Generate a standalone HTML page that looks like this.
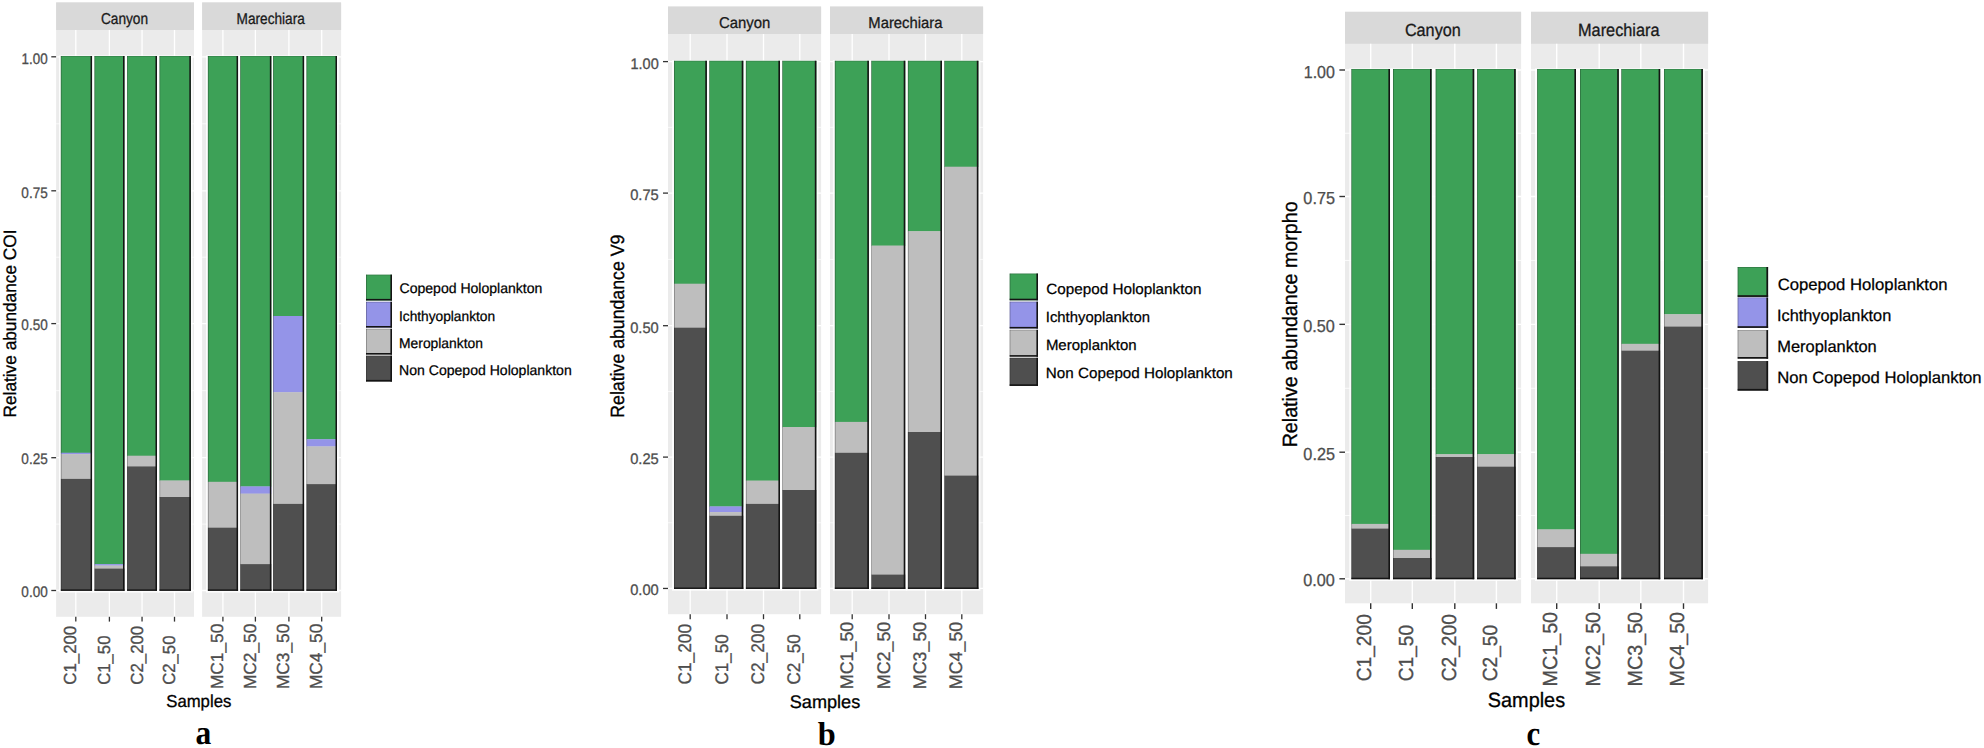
<!DOCTYPE html>
<html lang="en"><head><meta charset="utf-8"><title>Relative abundance of zooplankton groups</title>
<style>html,body{margin:0;padding:0;background:#fff}body{width:1984px;height:748px;overflow:hidden}svg{display:block}text{font-family:"Liberation Sans",Arial,sans-serif;text-rendering:geometricPrecision}text.t{stroke:#000;stroke-width:.3px}text.k{stroke:#000;stroke-width:.25px}text.s{stroke:#1A1A1A;stroke-width:.3px}text.g{stroke:#4D4D4D;stroke-width:.3px}text.ser{font-family:"Liberation Serif","Times New Roman",serif;font-weight:bold}</style>
</head><body>
<svg width="1984" height="748" viewBox="0 0 1984 748">
<rect width="1984" height="748" fill="#fff"/>
<g>
<rect x="56.1" y="3.3" width="137.9" height="613.5" fill="#EBEBEB"/>
<rect x="56.1" y="2.3" width="137.9" height="27.7" fill="#D9D9D9"/>
<line x1="56.1" x2="194" y1="590.5" y2="590.5" stroke="#fff" stroke-width="1.3"/>
<line x1="56.1" x2="194" y1="524.1" y2="524.1" stroke="#fff" stroke-width="0.7"/>
<line x1="56.1" x2="194" y1="457.7" y2="457.7" stroke="#fff" stroke-width="1.3"/>
<line x1="56.1" x2="194" y1="390.65" y2="390.65" stroke="#fff" stroke-width="0.7"/>
<line x1="56.1" x2="194" y1="323.6" y2="323.6" stroke="#fff" stroke-width="1.3"/>
<line x1="56.1" x2="194" y1="257.2" y2="257.2" stroke="#fff" stroke-width="0.7"/>
<line x1="56.1" x2="194" y1="190.8" y2="190.8" stroke="#fff" stroke-width="1.3"/>
<line x1="56.1" x2="194" y1="123.8" y2="123.8" stroke="#fff" stroke-width="0.7"/>
<line x1="56.1" x2="194" y1="56.8" y2="56.8" stroke="#fff" stroke-width="1.3"/>
<line x1="75.8" x2="75.8" y1="30" y2="616.8" stroke="#fff" stroke-width="1.3"/>
<line x1="75.8" x2="75.8" y1="616.8" y2="621.6" stroke="#333" stroke-width="1.3"/>
<line x1="109.4" x2="109.4" y1="30" y2="616.8" stroke="#fff" stroke-width="1.3"/>
<line x1="109.4" x2="109.4" y1="616.8" y2="621.6" stroke="#333" stroke-width="1.3"/>
<line x1="142.05" x2="142.05" y1="30" y2="616.8" stroke="#fff" stroke-width="1.3"/>
<line x1="142.05" x2="142.05" y1="616.8" y2="621.6" stroke="#333" stroke-width="1.3"/>
<line x1="174.5" x2="174.5" y1="30" y2="616.8" stroke="#fff" stroke-width="1.3"/>
<line x1="174.5" x2="174.5" y1="616.8" y2="621.6" stroke="#333" stroke-width="1.3"/>
<text x="100.92" y="23.6" font-size="15.8" fill="#1A1A1A" color="#1A1A1A" textLength="47.2" lengthAdjust="spacingAndGlyphs" class="s">Canyon</text>
<rect x="202.1" y="3.3" width="139" height="613.5" fill="#EBEBEB"/>
<rect x="202.1" y="2.3" width="139" height="27.7" fill="#D9D9D9"/>
<line x1="202.1" x2="341.1" y1="590.5" y2="590.5" stroke="#fff" stroke-width="1.3"/>
<line x1="202.1" x2="341.1" y1="524.1" y2="524.1" stroke="#fff" stroke-width="0.7"/>
<line x1="202.1" x2="341.1" y1="457.7" y2="457.7" stroke="#fff" stroke-width="1.3"/>
<line x1="202.1" x2="341.1" y1="390.65" y2="390.65" stroke="#fff" stroke-width="0.7"/>
<line x1="202.1" x2="341.1" y1="323.6" y2="323.6" stroke="#fff" stroke-width="1.3"/>
<line x1="202.1" x2="341.1" y1="257.2" y2="257.2" stroke="#fff" stroke-width="0.7"/>
<line x1="202.1" x2="341.1" y1="190.8" y2="190.8" stroke="#fff" stroke-width="1.3"/>
<line x1="202.1" x2="341.1" y1="123.8" y2="123.8" stroke="#fff" stroke-width="0.7"/>
<line x1="202.1" x2="341.1" y1="56.8" y2="56.8" stroke="#fff" stroke-width="1.3"/>
<line x1="222.9" x2="222.9" y1="30" y2="616.8" stroke="#fff" stroke-width="1.3"/>
<line x1="222.9" x2="222.9" y1="616.8" y2="621.6" stroke="#333" stroke-width="1.3"/>
<line x1="255.4" x2="255.4" y1="30" y2="616.8" stroke="#fff" stroke-width="1.3"/>
<line x1="255.4" x2="255.4" y1="616.8" y2="621.6" stroke="#333" stroke-width="1.3"/>
<line x1="288.9" x2="288.9" y1="30" y2="616.8" stroke="#fff" stroke-width="1.3"/>
<line x1="288.9" x2="288.9" y1="616.8" y2="621.6" stroke="#333" stroke-width="1.3"/>
<line x1="321.7" x2="321.7" y1="30" y2="616.8" stroke="#fff" stroke-width="1.3"/>
<line x1="321.7" x2="321.7" y1="616.8" y2="621.6" stroke="#333" stroke-width="1.3"/>
<text x="236.56" y="23.6" font-size="15.8" fill="#1A1A1A" color="#1A1A1A" textLength="68.27" lengthAdjust="spacingAndGlyphs" class="s">Marechiara</text>
<rect x="58.95" y="55.4" width="35" height="537.2" fill="#fff" opacity="0.85"/>
<rect x="92.6" y="55.4" width="33.8" height="537.2" fill="#fff" opacity="0.85"/>
<rect x="125.2" y="55.4" width="33.7" height="537.2" fill="#fff" opacity="0.85"/>
<rect x="157.65" y="55.4" width="35.1" height="537.2" fill="#fff" opacity="0.85"/>
<rect x="206" y="55.4" width="33.95" height="537.2" fill="#fff" opacity="0.85"/>
<rect x="238.4" y="55.4" width="34.85" height="537.2" fill="#fff" opacity="0.85"/>
<rect x="271.2" y="55.4" width="34.8" height="537.2" fill="#fff" opacity="0.85"/>
<rect x="304.6" y="55.4" width="34.3" height="537.2" fill="#fff" opacity="0.85"/>
<rect x="60.85" y="56" width="31.2" height="397" fill="#3DA157"/>
<rect x="60.85" y="452.7" width="31.2" height="1.7" fill="#9494E8"/>
<rect x="60.85" y="454.1" width="31.2" height="25.1" fill="#BEBEBE"/>
<rect x="60.85" y="478.9" width="31.2" height="111.9" fill="#4F4F4F"/>
<rect x="90.55" y="56" width="1.5" height="534.8" fill="#141414"/>
<rect x="60.85" y="589.4" width="31.2" height="1.4" fill="#141414"/>
<rect x="60.85" y="56" width="0.6" height="534.8" fill="#141414" opacity="0.45"/>
<rect x="60.85" y="56" width="31.2" height="0.6" fill="#141414" opacity="0.25"/>
<rect x="94.5" y="56" width="30" height="508.4" fill="#3DA157"/>
<rect x="94.5" y="564.1" width="30" height="1.7" fill="#9494E8"/>
<rect x="94.5" y="565.5" width="30" height="3.4" fill="#BEBEBE"/>
<rect x="94.5" y="568.6" width="30" height="22.2" fill="#4F4F4F"/>
<rect x="123" y="56" width="1.5" height="534.8" fill="#141414"/>
<rect x="94.5" y="589.4" width="30" height="1.4" fill="#141414"/>
<rect x="94.5" y="56" width="0.6" height="534.8" fill="#141414" opacity="0.45"/>
<rect x="94.5" y="56" width="30" height="0.6" fill="#141414" opacity="0.25"/>
<rect x="127.1" y="56" width="29.9" height="400" fill="#3DA157"/>
<rect x="127.1" y="455.7" width="29.9" height="11" fill="#BEBEBE"/>
<rect x="127.1" y="466.4" width="29.9" height="124.4" fill="#4F4F4F"/>
<rect x="155.5" y="56" width="1.5" height="534.8" fill="#141414"/>
<rect x="127.1" y="589.4" width="29.9" height="1.4" fill="#141414"/>
<rect x="127.1" y="56" width="0.6" height="534.8" fill="#141414" opacity="0.45"/>
<rect x="127.1" y="56" width="29.9" height="0.6" fill="#141414" opacity="0.25"/>
<rect x="159.55" y="56" width="31.3" height="424.8" fill="#3DA157"/>
<rect x="159.55" y="480.5" width="31.3" height="16.8" fill="#BEBEBE"/>
<rect x="159.55" y="497" width="31.3" height="93.8" fill="#4F4F4F"/>
<rect x="189.35" y="56" width="1.5" height="534.8" fill="#141414"/>
<rect x="159.55" y="589.4" width="31.3" height="1.4" fill="#141414"/>
<rect x="159.55" y="56" width="0.6" height="534.8" fill="#141414" opacity="0.45"/>
<rect x="159.55" y="56" width="31.3" height="0.6" fill="#141414" opacity="0.25"/>
<rect x="207.9" y="56" width="30.15" height="426.1" fill="#3DA157"/>
<rect x="207.9" y="481.8" width="30.15" height="46.2" fill="#BEBEBE"/>
<rect x="207.9" y="527.7" width="30.15" height="63.1" fill="#4F4F4F"/>
<rect x="236.55" y="56" width="1.5" height="534.8" fill="#141414"/>
<rect x="207.9" y="589.4" width="30.15" height="1.4" fill="#141414"/>
<rect x="207.9" y="56" width="0.6" height="534.8" fill="#141414" opacity="0.45"/>
<rect x="207.9" y="56" width="30.15" height="0.6" fill="#141414" opacity="0.25"/>
<rect x="240.3" y="56" width="31.05" height="430.7" fill="#3DA157"/>
<rect x="240.3" y="486.4" width="31.05" height="7.5" fill="#9494E8"/>
<rect x="240.3" y="493.6" width="31.05" height="70.8" fill="#BEBEBE"/>
<rect x="240.3" y="564.1" width="31.05" height="26.7" fill="#4F4F4F"/>
<rect x="269.85" y="56" width="1.5" height="534.8" fill="#141414"/>
<rect x="240.3" y="589.4" width="31.05" height="1.4" fill="#141414"/>
<rect x="240.3" y="56" width="0.6" height="534.8" fill="#141414" opacity="0.45"/>
<rect x="240.3" y="56" width="31.05" height="0.6" fill="#141414" opacity="0.25"/>
<rect x="273.1" y="56" width="31" height="260.3" fill="#3DA157"/>
<rect x="273.1" y="316" width="31" height="76.5" fill="#9494E8"/>
<rect x="273.1" y="392.2" width="31" height="112" fill="#BEBEBE"/>
<rect x="273.1" y="503.9" width="31" height="86.9" fill="#4F4F4F"/>
<rect x="302.6" y="56" width="1.5" height="534.8" fill="#141414"/>
<rect x="273.1" y="589.4" width="31" height="1.4" fill="#141414"/>
<rect x="273.1" y="56" width="0.6" height="534.8" fill="#141414" opacity="0.45"/>
<rect x="273.1" y="56" width="31" height="0.6" fill="#141414" opacity="0.25"/>
<rect x="306.5" y="56" width="30.5" height="383.5" fill="#3DA157"/>
<rect x="306.5" y="439.2" width="30.5" height="7.5" fill="#9494E8"/>
<rect x="306.5" y="446.4" width="30.5" height="38" fill="#BEBEBE"/>
<rect x="306.5" y="484.1" width="30.5" height="106.7" fill="#4F4F4F"/>
<rect x="335.5" y="56" width="1.5" height="534.8" fill="#141414"/>
<rect x="306.5" y="589.4" width="30.5" height="1.4" fill="#141414"/>
<rect x="306.5" y="56" width="0.6" height="534.8" fill="#141414" opacity="0.45"/>
<rect x="306.5" y="56" width="30.5" height="0.6" fill="#141414" opacity="0.25"/>
<line x1="51.3" x2="56.1" y1="590.5" y2="590.5" stroke="#333" stroke-width="1.3"/>
<text x="21.36" y="597.2" font-size="15.3" fill="#4D4D4D" color="#4D4D4D" textLength="26.33" lengthAdjust="spacingAndGlyphs" class="g">0.00</text>
<line x1="51.3" x2="56.1" y1="457.7" y2="457.7" stroke="#333" stroke-width="1.3"/>
<text x="21.36" y="464.4" font-size="15.3" fill="#4D4D4D" color="#4D4D4D" textLength="26.4" lengthAdjust="spacingAndGlyphs" class="g">0.25</text>
<line x1="51.3" x2="56.1" y1="323.6" y2="323.6" stroke="#333" stroke-width="1.3"/>
<text x="21.36" y="330.3" font-size="15.3" fill="#4D4D4D" color="#4D4D4D" textLength="26.33" lengthAdjust="spacingAndGlyphs" class="g">0.50</text>
<line x1="51.3" x2="56.1" y1="190.8" y2="190.8" stroke="#333" stroke-width="1.3"/>
<text x="21.36" y="197.5" font-size="15.3" fill="#4D4D4D" color="#4D4D4D" textLength="26.4" lengthAdjust="spacingAndGlyphs" class="g">0.75</text>
<line x1="51.3" x2="56.1" y1="56.8" y2="56.8" stroke="#333" stroke-width="1.3"/>
<text x="21.59" y="63.5" font-size="15.3" fill="#4D4D4D" color="#4D4D4D" textLength="26.09" lengthAdjust="spacingAndGlyphs" class="g">1.00</text>
<text transform="translate(76.3 684.74) rotate(-90)" font-size="17.5" fill="#4D4D4D" color="#4D4D4D" textLength="58.98" lengthAdjust="spacingAndGlyphs" class="g">C1_200</text>
<text transform="translate(109.9 684.73) rotate(-90)" font-size="17.5" fill="#4D4D4D" color="#4D4D4D" textLength="49.15" lengthAdjust="spacingAndGlyphs" class="g">C1_50</text>
<text transform="translate(142.55 684.74) rotate(-90)" font-size="17.5" fill="#4D4D4D" color="#4D4D4D" textLength="58.98" lengthAdjust="spacingAndGlyphs" class="g">C2_200</text>
<text transform="translate(175 684.73) rotate(-90)" font-size="17.5" fill="#4D4D4D" color="#4D4D4D" textLength="49.15" lengthAdjust="spacingAndGlyphs" class="g">C2_50</text>
<text transform="translate(223.4 689.09) rotate(-90)" font-size="17.5" fill="#4D4D4D" color="#4D4D4D" textLength="65.49" lengthAdjust="spacingAndGlyphs" class="g">MC1_50</text>
<text transform="translate(255.9 689.09) rotate(-90)" font-size="17.5" fill="#4D4D4D" color="#4D4D4D" textLength="65.49" lengthAdjust="spacingAndGlyphs" class="g">MC2_50</text>
<text transform="translate(289.4 689.09) rotate(-90)" font-size="17.5" fill="#4D4D4D" color="#4D4D4D" textLength="65.49" lengthAdjust="spacingAndGlyphs" class="g">MC3_50</text>
<text transform="translate(322.2 689.09) rotate(-90)" font-size="17.5" fill="#4D4D4D" color="#4D4D4D" textLength="65.49" lengthAdjust="spacingAndGlyphs" class="g">MC4_50</text>
<text transform="translate(15.9 417.48) rotate(-90)" font-size="17.9" fill="#000" color="#000" textLength="187.94" lengthAdjust="spacingAndGlyphs" class="t">Relative abundance COI</text>
<text x="166.25" y="707.2" font-size="17.3" fill="#000" color="#000" textLength="65.05" lengthAdjust="spacingAndGlyphs" class="t">Samples</text>
<rect x="366" y="274.7" width="26" height="25.8" fill="#3DA157"/>
<rect x="390.4" y="274.7" width="1.6" height="25.8" fill="#141414"/>
<rect x="366" y="298.9" width="26" height="1.6" fill="#141414"/>
<rect x="366" y="274.7" width="0.6" height="25.8" fill="#141414" opacity="0.45"/>
<rect x="366" y="274.7" width="26" height="0.6" fill="#141414" opacity="0.35"/>
<text x="399.5" y="293.4" font-size="14.1" fill="#000" color="#000" textLength="142.91" lengthAdjust="spacingAndGlyphs" class="k">Copepod Holoplankton</text>
<rect x="366" y="301.8" width="26" height="25.8" fill="#9494E8"/>
<rect x="390.4" y="301.8" width="1.6" height="25.8" fill="#141414"/>
<rect x="366" y="326" width="26" height="1.6" fill="#141414"/>
<rect x="366" y="301.8" width="0.6" height="25.8" fill="#141414" opacity="0.45"/>
<rect x="366" y="301.8" width="26" height="0.6" fill="#141414" opacity="0.35"/>
<text x="398.96" y="321.4" font-size="14.1" fill="#000" color="#000" textLength="96.13" lengthAdjust="spacingAndGlyphs" class="k">Ichthyoplankton</text>
<rect x="366" y="328.8" width="26" height="25.8" fill="#BEBEBE"/>
<rect x="390.4" y="328.8" width="1.6" height="25.8" fill="#141414"/>
<rect x="366" y="353" width="26" height="1.6" fill="#141414"/>
<rect x="366" y="328.8" width="0.6" height="25.8" fill="#141414" opacity="0.45"/>
<rect x="366" y="328.8" width="26" height="0.6" fill="#141414" opacity="0.35"/>
<text x="399.09" y="348.3" font-size="14.1" fill="#000" color="#000" textLength="83.8" lengthAdjust="spacingAndGlyphs" class="k">Meroplankton</text>
<rect x="366" y="355.7" width="26" height="25.8" fill="#4F4F4F"/>
<rect x="390.4" y="355.7" width="1.6" height="25.8" fill="#141414"/>
<rect x="366" y="379.9" width="26" height="1.6" fill="#141414"/>
<rect x="366" y="355.7" width="0.6" height="25.8" fill="#141414" opacity="0.45"/>
<rect x="366" y="355.7" width="26" height="0.6" fill="#141414" opacity="0.35"/>
<text x="399.08" y="375" font-size="14.1" fill="#000" color="#000" textLength="172.67" lengthAdjust="spacingAndGlyphs" class="k">Non Copepod Holoplankton</text>
<text x="195.6" y="744.4" font-size="34.3" fill="#000" color="#000" textLength="15.8" lengthAdjust="spacingAndGlyphs" class="ser">a</text>
</g>
<g>
<rect x="668" y="7.4" width="153.1" height="606.8" fill="#EBEBEB"/>
<rect x="668" y="6.4" width="153.1" height="27.55" fill="#D9D9D9"/>
<line x1="668" x2="821.1" y1="588.45" y2="588.45" stroke="#fff" stroke-width="1.3"/>
<line x1="668" x2="821.1" y1="522.78" y2="522.78" stroke="#fff" stroke-width="0.7"/>
<line x1="668" x2="821.1" y1="457.1" y2="457.1" stroke="#fff" stroke-width="1.3"/>
<line x1="668" x2="821.1" y1="391.4" y2="391.4" stroke="#fff" stroke-width="0.7"/>
<line x1="668" x2="821.1" y1="325.7" y2="325.7" stroke="#fff" stroke-width="1.3"/>
<line x1="668" x2="821.1" y1="259.4" y2="259.4" stroke="#fff" stroke-width="0.7"/>
<line x1="668" x2="821.1" y1="193.1" y2="193.1" stroke="#fff" stroke-width="1.3"/>
<line x1="668" x2="821.1" y1="127.35" y2="127.35" stroke="#fff" stroke-width="0.7"/>
<line x1="668" x2="821.1" y1="61.6" y2="61.6" stroke="#fff" stroke-width="1.3"/>
<line x1="690.2" x2="690.2" y1="33.95" y2="614.2" stroke="#fff" stroke-width="1.3"/>
<line x1="690.2" x2="690.2" y1="614.2" y2="619.2" stroke="#333" stroke-width="1.3"/>
<line x1="727" x2="727" y1="33.95" y2="614.2" stroke="#fff" stroke-width="1.3"/>
<line x1="727" x2="727" y1="614.2" y2="619.2" stroke="#333" stroke-width="1.3"/>
<line x1="763.5" x2="763.5" y1="33.95" y2="614.2" stroke="#fff" stroke-width="1.3"/>
<line x1="763.5" x2="763.5" y1="614.2" y2="619.2" stroke="#333" stroke-width="1.3"/>
<line x1="799.8" x2="799.8" y1="33.95" y2="614.2" stroke="#fff" stroke-width="1.3"/>
<line x1="799.8" x2="799.8" y1="614.2" y2="619.2" stroke="#333" stroke-width="1.3"/>
<text x="718.96" y="28.1" font-size="15.6" fill="#1A1A1A" color="#1A1A1A" textLength="51.34" lengthAdjust="spacingAndGlyphs" class="s">Canyon</text>
<rect x="830" y="7.4" width="153.1" height="606.8" fill="#EBEBEB"/>
<rect x="830" y="6.4" width="153.1" height="27.55" fill="#D9D9D9"/>
<line x1="830" x2="983.1" y1="588.45" y2="588.45" stroke="#fff" stroke-width="1.3"/>
<line x1="830" x2="983.1" y1="522.78" y2="522.78" stroke="#fff" stroke-width="0.7"/>
<line x1="830" x2="983.1" y1="457.1" y2="457.1" stroke="#fff" stroke-width="1.3"/>
<line x1="830" x2="983.1" y1="391.4" y2="391.4" stroke="#fff" stroke-width="0.7"/>
<line x1="830" x2="983.1" y1="325.7" y2="325.7" stroke="#fff" stroke-width="1.3"/>
<line x1="830" x2="983.1" y1="259.4" y2="259.4" stroke="#fff" stroke-width="0.7"/>
<line x1="830" x2="983.1" y1="193.1" y2="193.1" stroke="#fff" stroke-width="1.3"/>
<line x1="830" x2="983.1" y1="127.35" y2="127.35" stroke="#fff" stroke-width="0.7"/>
<line x1="830" x2="983.1" y1="61.6" y2="61.6" stroke="#fff" stroke-width="1.3"/>
<line x1="852.2" x2="852.2" y1="33.95" y2="614.2" stroke="#fff" stroke-width="1.3"/>
<line x1="852.2" x2="852.2" y1="614.2" y2="619.2" stroke="#333" stroke-width="1.3"/>
<line x1="889" x2="889" y1="33.95" y2="614.2" stroke="#fff" stroke-width="1.3"/>
<line x1="889" x2="889" y1="614.2" y2="619.2" stroke="#333" stroke-width="1.3"/>
<line x1="925.5" x2="925.5" y1="33.95" y2="614.2" stroke="#fff" stroke-width="1.3"/>
<line x1="925.5" x2="925.5" y1="614.2" y2="619.2" stroke="#333" stroke-width="1.3"/>
<line x1="961.8" x2="961.8" y1="33.95" y2="614.2" stroke="#fff" stroke-width="1.3"/>
<line x1="961.8" x2="961.8" y1="614.2" y2="619.2" stroke="#333" stroke-width="1.3"/>
<text x="868.31" y="28.1" font-size="15.6" fill="#1A1A1A" color="#1A1A1A" textLength="74.12" lengthAdjust="spacingAndGlyphs" class="s">Marechiara</text>
<rect x="672" y="60.2" width="36.9" height="530.5" fill="#fff" opacity="0.85"/>
<rect x="707.4" y="60.2" width="37.9" height="530.5" fill="#fff" opacity="0.85"/>
<rect x="743.9" y="60.2" width="38.1" height="530.5" fill="#fff" opacity="0.85"/>
<rect x="780.4" y="60.2" width="38" height="530.5" fill="#fff" opacity="0.85"/>
<rect x="832.85" y="60.2" width="38.05" height="530.5" fill="#fff" opacity="0.85"/>
<rect x="869.4" y="60.2" width="37.9" height="530.5" fill="#fff" opacity="0.85"/>
<rect x="905.9" y="60.2" width="38.1" height="530.5" fill="#fff" opacity="0.85"/>
<rect x="942.4" y="60.2" width="38" height="530.5" fill="#fff" opacity="0.85"/>
<rect x="674" y="60.8" width="32.9" height="223.2" fill="#3DA157"/>
<rect x="674" y="283.7" width="32.9" height="44.3" fill="#BEBEBE"/>
<rect x="674" y="327.7" width="32.9" height="261.2" fill="#4F4F4F"/>
<rect x="705.3" y="60.8" width="1.6" height="528.1" fill="#141414"/>
<rect x="674" y="587.5" width="32.9" height="1.4" fill="#141414"/>
<rect x="674" y="60.8" width="0.6" height="528.1" fill="#141414" opacity="0.45"/>
<rect x="674" y="60.8" width="32.9" height="0.6" fill="#141414" opacity="0.25"/>
<rect x="709.4" y="60.8" width="33.9" height="445.9" fill="#3DA157"/>
<rect x="709.4" y="506.4" width="33.9" height="6" fill="#9494E8"/>
<rect x="709.4" y="512.1" width="33.9" height="4" fill="#BEBEBE"/>
<rect x="709.4" y="515.8" width="33.9" height="73.1" fill="#4F4F4F"/>
<rect x="741.7" y="60.8" width="1.6" height="528.1" fill="#141414"/>
<rect x="709.4" y="587.5" width="33.9" height="1.4" fill="#141414"/>
<rect x="709.4" y="60.8" width="0.6" height="528.1" fill="#141414" opacity="0.45"/>
<rect x="709.4" y="60.8" width="33.9" height="0.6" fill="#141414" opacity="0.25"/>
<rect x="745.9" y="60.8" width="34.1" height="420.1" fill="#3DA157"/>
<rect x="745.9" y="480.6" width="34.1" height="23.6" fill="#BEBEBE"/>
<rect x="745.9" y="503.9" width="34.1" height="85" fill="#4F4F4F"/>
<rect x="778.4" y="60.8" width="1.6" height="528.1" fill="#141414"/>
<rect x="745.9" y="587.5" width="34.1" height="1.4" fill="#141414"/>
<rect x="745.9" y="60.8" width="0.6" height="528.1" fill="#141414" opacity="0.45"/>
<rect x="745.9" y="60.8" width="34.1" height="0.6" fill="#141414" opacity="0.25"/>
<rect x="782.4" y="60.8" width="34" height="366.6" fill="#3DA157"/>
<rect x="782.4" y="427.1" width="34" height="63.2" fill="#BEBEBE"/>
<rect x="782.4" y="490" width="34" height="98.9" fill="#4F4F4F"/>
<rect x="814.8" y="60.8" width="1.6" height="528.1" fill="#141414"/>
<rect x="782.4" y="587.5" width="34" height="1.4" fill="#141414"/>
<rect x="782.4" y="60.8" width="0.6" height="528.1" fill="#141414" opacity="0.45"/>
<rect x="782.4" y="60.8" width="34" height="0.6" fill="#141414" opacity="0.25"/>
<rect x="834.85" y="60.8" width="34.05" height="361.4" fill="#3DA157"/>
<rect x="834.85" y="421.9" width="34.05" height="31.2" fill="#BEBEBE"/>
<rect x="834.85" y="452.8" width="34.05" height="136.1" fill="#4F4F4F"/>
<rect x="867.3" y="60.8" width="1.6" height="528.1" fill="#141414"/>
<rect x="834.85" y="587.5" width="34.05" height="1.4" fill="#141414"/>
<rect x="834.85" y="60.8" width="0.6" height="528.1" fill="#141414" opacity="0.45"/>
<rect x="834.85" y="60.8" width="34.05" height="0.6" fill="#141414" opacity="0.25"/>
<rect x="871.4" y="60.8" width="33.9" height="185.1" fill="#3DA157"/>
<rect x="871.4" y="245.6" width="33.9" height="329.3" fill="#BEBEBE"/>
<rect x="871.4" y="574.6" width="33.9" height="14.3" fill="#4F4F4F"/>
<rect x="903.7" y="60.8" width="1.6" height="528.1" fill="#141414"/>
<rect x="871.4" y="587.5" width="33.9" height="1.4" fill="#141414"/>
<rect x="871.4" y="60.8" width="0.6" height="528.1" fill="#141414" opacity="0.45"/>
<rect x="871.4" y="60.8" width="33.9" height="0.6" fill="#141414" opacity="0.25"/>
<rect x="907.9" y="60.8" width="34.1" height="170.7" fill="#3DA157"/>
<rect x="907.9" y="231.2" width="34.1" height="201.1" fill="#BEBEBE"/>
<rect x="907.9" y="432" width="34.1" height="156.9" fill="#4F4F4F"/>
<rect x="940.4" y="60.8" width="1.6" height="528.1" fill="#141414"/>
<rect x="907.9" y="587.5" width="34.1" height="1.4" fill="#141414"/>
<rect x="907.9" y="60.8" width="0.6" height="528.1" fill="#141414" opacity="0.45"/>
<rect x="907.9" y="60.8" width="34.1" height="0.6" fill="#141414" opacity="0.25"/>
<rect x="944.4" y="60.8" width="34" height="106.2" fill="#3DA157"/>
<rect x="944.4" y="166.7" width="34" height="309.2" fill="#BEBEBE"/>
<rect x="944.4" y="475.6" width="34" height="113.3" fill="#4F4F4F"/>
<rect x="976.8" y="60.8" width="1.6" height="528.1" fill="#141414"/>
<rect x="944.4" y="587.5" width="34" height="1.4" fill="#141414"/>
<rect x="944.4" y="60.8" width="0.6" height="528.1" fill="#141414" opacity="0.45"/>
<rect x="944.4" y="60.8" width="34" height="0.6" fill="#141414" opacity="0.25"/>
<line x1="663" x2="668" y1="588.45" y2="588.45" stroke="#333" stroke-width="1.3"/>
<text x="630.21" y="595.4" font-size="15.3" fill="#4D4D4D" color="#4D4D4D" textLength="28.52" lengthAdjust="spacingAndGlyphs" class="g">0.00</text>
<line x1="663" x2="668" y1="457.1" y2="457.1" stroke="#333" stroke-width="1.3"/>
<text x="630.21" y="464.05" font-size="15.3" fill="#4D4D4D" color="#4D4D4D" textLength="28.59" lengthAdjust="spacingAndGlyphs" class="g">0.25</text>
<line x1="663" x2="668" y1="325.7" y2="325.7" stroke="#333" stroke-width="1.3"/>
<text x="630.21" y="332.65" font-size="15.3" fill="#4D4D4D" color="#4D4D4D" textLength="28.52" lengthAdjust="spacingAndGlyphs" class="g">0.50</text>
<line x1="663" x2="668" y1="193.1" y2="193.1" stroke="#333" stroke-width="1.3"/>
<text x="630.21" y="200.05" font-size="15.3" fill="#4D4D4D" color="#4D4D4D" textLength="28.59" lengthAdjust="spacingAndGlyphs" class="g">0.75</text>
<line x1="663" x2="668" y1="61.6" y2="61.6" stroke="#333" stroke-width="1.3"/>
<text x="630.51" y="68.55" font-size="15.3" fill="#4D4D4D" color="#4D4D4D" textLength="28.21" lengthAdjust="spacingAndGlyphs" class="g">1.00</text>
<text transform="translate(690.8 684.46) rotate(-90)" font-size="18.2" fill="#4D4D4D" color="#4D4D4D" textLength="60.52" lengthAdjust="spacingAndGlyphs" class="g">C1_200</text>
<text transform="translate(727.6 684.45) rotate(-90)" font-size="18.2" fill="#4D4D4D" color="#4D4D4D" textLength="50.28" lengthAdjust="spacingAndGlyphs" class="g">C1_50</text>
<text transform="translate(764.1 684.46) rotate(-90)" font-size="18.2" fill="#4D4D4D" color="#4D4D4D" textLength="60.52" lengthAdjust="spacingAndGlyphs" class="g">C2_200</text>
<text transform="translate(800.4 684.45) rotate(-90)" font-size="18.2" fill="#4D4D4D" color="#4D4D4D" textLength="50.28" lengthAdjust="spacingAndGlyphs" class="g">C2_50</text>
<text transform="translate(852.8 689.13) rotate(-90)" font-size="18.2" fill="#4D4D4D" color="#4D4D4D" textLength="67.35" lengthAdjust="spacingAndGlyphs" class="g">MC1_50</text>
<text transform="translate(889.6 689.13) rotate(-90)" font-size="18.2" fill="#4D4D4D" color="#4D4D4D" textLength="67.35" lengthAdjust="spacingAndGlyphs" class="g">MC2_50</text>
<text transform="translate(926.1 689.13) rotate(-90)" font-size="18.2" fill="#4D4D4D" color="#4D4D4D" textLength="67.35" lengthAdjust="spacingAndGlyphs" class="g">MC3_50</text>
<text transform="translate(962.4 689.13) rotate(-90)" font-size="18.2" fill="#4D4D4D" color="#4D4D4D" textLength="67.35" lengthAdjust="spacingAndGlyphs" class="g">MC4_50</text>
<text transform="translate(624.2 417.72) rotate(-90)" font-size="19.2" fill="#000" color="#000" textLength="183.03" lengthAdjust="spacingAndGlyphs" class="t">Relative abundance V9</text>
<text x="789.79" y="708.3" font-size="18.2" fill="#000" color="#000" textLength="70.46" lengthAdjust="spacingAndGlyphs" class="t">Samples</text>
<rect x="1009.7" y="273.6" width="28.3" height="26.7" fill="#3DA157"/>
<rect x="1036.4" y="273.6" width="1.6" height="26.7" fill="#141414"/>
<rect x="1009.7" y="298.7" width="28.3" height="1.6" fill="#141414"/>
<rect x="1009.7" y="273.6" width="0.6" height="26.7" fill="#141414" opacity="0.45"/>
<rect x="1009.7" y="273.6" width="28.3" height="0.6" fill="#141414" opacity="0.35"/>
<text x="1046.34" y="294.3" font-size="14.8" fill="#000" color="#000" textLength="155.05" lengthAdjust="spacingAndGlyphs" class="k">Copepod Holoplankton</text>
<rect x="1009.7" y="301.7" width="28.3" height="26.8" fill="#9494E8"/>
<rect x="1036.4" y="301.7" width="1.6" height="26.8" fill="#141414"/>
<rect x="1009.7" y="326.9" width="28.3" height="1.6" fill="#141414"/>
<rect x="1009.7" y="301.7" width="0.6" height="26.8" fill="#141414" opacity="0.45"/>
<rect x="1009.7" y="301.7" width="28.3" height="0.6" fill="#141414" opacity="0.35"/>
<text x="1045.76" y="322.2" font-size="14.8" fill="#000" color="#000" textLength="104.21" lengthAdjust="spacingAndGlyphs" class="k">Ichthyoplankton</text>
<rect x="1009.7" y="329.8" width="28.3" height="26.9" fill="#BEBEBE"/>
<rect x="1036.4" y="329.8" width="1.6" height="26.9" fill="#141414"/>
<rect x="1009.7" y="355.1" width="28.3" height="1.6" fill="#141414"/>
<rect x="1009.7" y="329.8" width="0.6" height="26.9" fill="#141414" opacity="0.45"/>
<rect x="1009.7" y="329.8" width="28.3" height="0.6" fill="#141414" opacity="0.35"/>
<text x="1045.9" y="350.2" font-size="14.8" fill="#000" color="#000" textLength="90.76" lengthAdjust="spacingAndGlyphs" class="k">Meroplankton</text>
<rect x="1009.7" y="357.8" width="28.3" height="28.1" fill="#4F4F4F"/>
<rect x="1036.4" y="357.8" width="1.6" height="28.1" fill="#141414"/>
<rect x="1009.7" y="384.3" width="28.3" height="1.6" fill="#141414"/>
<rect x="1009.7" y="357.8" width="0.6" height="28.1" fill="#141414" opacity="0.45"/>
<rect x="1009.7" y="357.8" width="28.3" height="0.6" fill="#141414" opacity="0.35"/>
<text x="1045.88" y="378.2" font-size="14.8" fill="#000" color="#000" textLength="186.94" lengthAdjust="spacingAndGlyphs" class="k">Non Copepod Holoplankton</text>
<text x="817.7" y="744.9" font-size="33.2" fill="#000" color="#000" textLength="18" lengthAdjust="spacingAndGlyphs" class="ser">b</text>
</g>
<g>
<rect x="1345" y="12.7" width="176.1" height="590.6" fill="#EBEBEB"/>
<rect x="1345" y="11.7" width="176.1" height="32.05" fill="#D9D9D9"/>
<line x1="1345" x2="1521.1" y1="578.8" y2="578.8" stroke="#fff" stroke-width="1.4"/>
<line x1="1345" x2="1521.1" y1="515.5" y2="515.5" stroke="#fff" stroke-width="0.8"/>
<line x1="1345" x2="1521.1" y1="452.2" y2="452.2" stroke="#fff" stroke-width="1.4"/>
<line x1="1345" x2="1521.1" y1="388.27" y2="388.27" stroke="#fff" stroke-width="0.8"/>
<line x1="1345" x2="1521.1" y1="324.35" y2="324.35" stroke="#fff" stroke-width="1.4"/>
<line x1="1345" x2="1521.1" y1="260.43" y2="260.43" stroke="#fff" stroke-width="0.8"/>
<line x1="1345" x2="1521.1" y1="196.5" y2="196.5" stroke="#fff" stroke-width="1.4"/>
<line x1="1345" x2="1521.1" y1="133.25" y2="133.25" stroke="#fff" stroke-width="0.8"/>
<line x1="1345" x2="1521.1" y1="70" y2="70" stroke="#fff" stroke-width="1.4"/>
<line x1="1370.7" x2="1370.7" y1="43.75" y2="603.3" stroke="#fff" stroke-width="1.4"/>
<line x1="1370.7" x2="1370.7" y1="603.3" y2="608.9" stroke="#333" stroke-width="1.4"/>
<line x1="1412.3" x2="1412.3" y1="43.75" y2="603.3" stroke="#fff" stroke-width="1.4"/>
<line x1="1412.3" x2="1412.3" y1="603.3" y2="608.9" stroke="#333" stroke-width="1.4"/>
<line x1="1454.8" x2="1454.8" y1="43.75" y2="603.3" stroke="#fff" stroke-width="1.4"/>
<line x1="1454.8" x2="1454.8" y1="603.3" y2="608.9" stroke="#333" stroke-width="1.4"/>
<line x1="1496.4" x2="1496.4" y1="43.75" y2="603.3" stroke="#fff" stroke-width="1.4"/>
<line x1="1496.4" x2="1496.4" y1="603.3" y2="608.9" stroke="#333" stroke-width="1.4"/>
<text x="1404.89" y="35.85" font-size="17.7" fill="#1A1A1A" color="#1A1A1A" textLength="55.9" lengthAdjust="spacingAndGlyphs" class="s">Canyon</text>
<rect x="1531" y="12.7" width="177.1" height="590.6" fill="#EBEBEB"/>
<rect x="1531" y="11.7" width="177.1" height="32.05" fill="#D9D9D9"/>
<line x1="1531" x2="1708.1" y1="578.8" y2="578.8" stroke="#fff" stroke-width="1.4"/>
<line x1="1531" x2="1708.1" y1="515.5" y2="515.5" stroke="#fff" stroke-width="0.8"/>
<line x1="1531" x2="1708.1" y1="452.2" y2="452.2" stroke="#fff" stroke-width="1.4"/>
<line x1="1531" x2="1708.1" y1="388.27" y2="388.27" stroke="#fff" stroke-width="0.8"/>
<line x1="1531" x2="1708.1" y1="324.35" y2="324.35" stroke="#fff" stroke-width="1.4"/>
<line x1="1531" x2="1708.1" y1="260.43" y2="260.43" stroke="#fff" stroke-width="0.8"/>
<line x1="1531" x2="1708.1" y1="196.5" y2="196.5" stroke="#fff" stroke-width="1.4"/>
<line x1="1531" x2="1708.1" y1="133.25" y2="133.25" stroke="#fff" stroke-width="0.8"/>
<line x1="1531" x2="1708.1" y1="70" y2="70" stroke="#fff" stroke-width="1.4"/>
<line x1="1556.7" x2="1556.7" y1="43.75" y2="603.3" stroke="#fff" stroke-width="1.4"/>
<line x1="1556.7" x2="1556.7" y1="603.3" y2="608.9" stroke="#333" stroke-width="1.4"/>
<line x1="1599.2" x2="1599.2" y1="43.75" y2="603.3" stroke="#fff" stroke-width="1.4"/>
<line x1="1599.2" x2="1599.2" y1="603.3" y2="608.9" stroke="#333" stroke-width="1.4"/>
<line x1="1640.8" x2="1640.8" y1="43.75" y2="603.3" stroke="#fff" stroke-width="1.4"/>
<line x1="1640.8" x2="1640.8" y1="603.3" y2="608.9" stroke="#333" stroke-width="1.4"/>
<line x1="1683.5" x2="1683.5" y1="43.75" y2="603.3" stroke="#fff" stroke-width="1.4"/>
<line x1="1683.5" x2="1683.5" y1="603.3" y2="608.9" stroke="#333" stroke-width="1.4"/>
<text x="1578" y="35.85" font-size="17.7" fill="#1A1A1A" color="#1A1A1A" textLength="81.54" lengthAdjust="spacingAndGlyphs" class="s">Marechiara</text>
<rect x="1349.25" y="68.4" width="42.95" height="512.6" fill="#fff" opacity="0.85"/>
<rect x="1390.8" y="68.4" width="43" height="512.6" fill="#fff" opacity="0.85"/>
<rect x="1433.5" y="68.4" width="42.9" height="512.6" fill="#fff" opacity="0.85"/>
<rect x="1474.9" y="68.4" width="43" height="512.6" fill="#fff" opacity="0.85"/>
<rect x="1534.95" y="68.4" width="43.25" height="512.6" fill="#fff" opacity="0.85"/>
<rect x="1577.8" y="68.4" width="43.2" height="512.6" fill="#fff" opacity="0.85"/>
<rect x="1619.2" y="68.4" width="43.2" height="512.6" fill="#fff" opacity="0.85"/>
<rect x="1661.8" y="68.4" width="43.3" height="512.6" fill="#fff" opacity="0.85"/>
<rect x="1351.45" y="69" width="38.55" height="455.2" fill="#3DA157"/>
<rect x="1351.45" y="523.9" width="38.55" height="5" fill="#BEBEBE"/>
<rect x="1351.45" y="528.6" width="38.55" height="50.6" fill="#4F4F4F"/>
<rect x="1388.4" y="69" width="1.6" height="510.2" fill="#141414"/>
<rect x="1351.45" y="577.7" width="38.55" height="1.5" fill="#141414"/>
<rect x="1351.45" y="69" width="0.6" height="510.2" fill="#141414" opacity="0.45"/>
<rect x="1351.45" y="69" width="38.55" height="0.6" fill="#141414" opacity="0.25"/>
<rect x="1393" y="69" width="38.6" height="481.1" fill="#3DA157"/>
<rect x="1393" y="549.8" width="38.6" height="8.5" fill="#BEBEBE"/>
<rect x="1393" y="558" width="38.6" height="21.2" fill="#4F4F4F"/>
<rect x="1430" y="69" width="1.6" height="510.2" fill="#141414"/>
<rect x="1393" y="577.7" width="38.6" height="1.5" fill="#141414"/>
<rect x="1393" y="69" width="0.6" height="510.2" fill="#141414" opacity="0.45"/>
<rect x="1393" y="69" width="38.6" height="0.6" fill="#141414" opacity="0.25"/>
<rect x="1435.7" y="69" width="38.5" height="385.5" fill="#3DA157"/>
<rect x="1435.7" y="454.2" width="38.5" height="3.1" fill="#BEBEBE"/>
<rect x="1435.7" y="457" width="38.5" height="122.2" fill="#4F4F4F"/>
<rect x="1472.6" y="69" width="1.6" height="510.2" fill="#141414"/>
<rect x="1435.7" y="577.7" width="38.5" height="1.5" fill="#141414"/>
<rect x="1435.7" y="69" width="0.6" height="510.2" fill="#141414" opacity="0.45"/>
<rect x="1435.7" y="69" width="38.5" height="0.6" fill="#141414" opacity="0.25"/>
<rect x="1477.1" y="69" width="38.6" height="385.5" fill="#3DA157"/>
<rect x="1477.1" y="454.2" width="38.6" height="12.8" fill="#BEBEBE"/>
<rect x="1477.1" y="466.7" width="38.6" height="112.5" fill="#4F4F4F"/>
<rect x="1514.1" y="69" width="1.6" height="510.2" fill="#141414"/>
<rect x="1477.1" y="577.7" width="38.6" height="1.5" fill="#141414"/>
<rect x="1477.1" y="69" width="0.6" height="510.2" fill="#141414" opacity="0.45"/>
<rect x="1477.1" y="69" width="38.6" height="0.6" fill="#141414" opacity="0.25"/>
<rect x="1537.15" y="69" width="38.85" height="460.7" fill="#3DA157"/>
<rect x="1537.15" y="529.4" width="38.85" height="18" fill="#BEBEBE"/>
<rect x="1537.15" y="547.1" width="38.85" height="32.1" fill="#4F4F4F"/>
<rect x="1574.4" y="69" width="1.6" height="510.2" fill="#141414"/>
<rect x="1537.15" y="577.7" width="38.85" height="1.5" fill="#141414"/>
<rect x="1537.15" y="69" width="0.6" height="510.2" fill="#141414" opacity="0.45"/>
<rect x="1537.15" y="69" width="38.85" height="0.6" fill="#141414" opacity="0.25"/>
<rect x="1580" y="69" width="38.8" height="485.1" fill="#3DA157"/>
<rect x="1580" y="553.8" width="38.8" height="12.8" fill="#BEBEBE"/>
<rect x="1580" y="566.3" width="38.8" height="12.9" fill="#4F4F4F"/>
<rect x="1617.2" y="69" width="1.6" height="510.2" fill="#141414"/>
<rect x="1580" y="577.7" width="38.8" height="1.5" fill="#141414"/>
<rect x="1580" y="69" width="0.6" height="510.2" fill="#141414" opacity="0.45"/>
<rect x="1580" y="69" width="38.8" height="0.6" fill="#141414" opacity="0.25"/>
<rect x="1621.4" y="69" width="38.8" height="275.1" fill="#3DA157"/>
<rect x="1621.4" y="343.8" width="38.8" height="7.2" fill="#BEBEBE"/>
<rect x="1621.4" y="350.7" width="38.8" height="228.5" fill="#4F4F4F"/>
<rect x="1658.6" y="69" width="1.6" height="510.2" fill="#141414"/>
<rect x="1621.4" y="577.7" width="38.8" height="1.5" fill="#141414"/>
<rect x="1621.4" y="69" width="0.6" height="510.2" fill="#141414" opacity="0.45"/>
<rect x="1621.4" y="69" width="38.8" height="0.6" fill="#141414" opacity="0.25"/>
<rect x="1664" y="69" width="38.9" height="245.5" fill="#3DA157"/>
<rect x="1664" y="314.2" width="38.9" height="12.7" fill="#BEBEBE"/>
<rect x="1664" y="326.6" width="38.9" height="252.6" fill="#4F4F4F"/>
<rect x="1701.3" y="69" width="1.6" height="510.2" fill="#141414"/>
<rect x="1664" y="577.7" width="38.9" height="1.5" fill="#141414"/>
<rect x="1664" y="69" width="0.6" height="510.2" fill="#141414" opacity="0.45"/>
<rect x="1664" y="69" width="38.9" height="0.6" fill="#141414" opacity="0.25"/>
<line x1="1339.4" x2="1345" y1="578.8" y2="578.8" stroke="#333" stroke-width="1.4"/>
<text x="1303.35" y="586.35" font-size="17.4" fill="#4D4D4D" color="#4D4D4D" textLength="31.54" lengthAdjust="spacingAndGlyphs" class="g">0.00</text>
<line x1="1339.4" x2="1345" y1="452.2" y2="452.2" stroke="#333" stroke-width="1.4"/>
<text x="1303.35" y="459.75" font-size="17.4" fill="#4D4D4D" color="#4D4D4D" textLength="31.62" lengthAdjust="spacingAndGlyphs" class="g">0.25</text>
<line x1="1339.4" x2="1345" y1="324.35" y2="324.35" stroke="#333" stroke-width="1.4"/>
<text x="1303.35" y="331.9" font-size="17.4" fill="#4D4D4D" color="#4D4D4D" textLength="31.54" lengthAdjust="spacingAndGlyphs" class="g">0.50</text>
<line x1="1339.4" x2="1345" y1="196.5" y2="196.5" stroke="#333" stroke-width="1.4"/>
<text x="1303.35" y="204.05" font-size="17.4" fill="#4D4D4D" color="#4D4D4D" textLength="31.62" lengthAdjust="spacingAndGlyphs" class="g">0.75</text>
<line x1="1339.4" x2="1345" y1="70" y2="70" stroke="#333" stroke-width="1.4"/>
<text x="1303.8" y="77.55" font-size="17.4" fill="#4D4D4D" color="#4D4D4D" textLength="31.08" lengthAdjust="spacingAndGlyphs" class="g">1.00</text>
<text transform="translate(1371.4 681.26) rotate(-90)" font-size="20.4" fill="#4D4D4D" color="#4D4D4D" textLength="67.09" lengthAdjust="spacingAndGlyphs" class="g">C1_200</text>
<text transform="translate(1413 681.26) rotate(-90)" font-size="20.4" fill="#4D4D4D" color="#4D4D4D" textLength="56.36" lengthAdjust="spacingAndGlyphs" class="g">C1_50</text>
<text transform="translate(1455.5 681.26) rotate(-90)" font-size="20.4" fill="#4D4D4D" color="#4D4D4D" textLength="67.09" lengthAdjust="spacingAndGlyphs" class="g">C2_200</text>
<text transform="translate(1497.1 681.26) rotate(-90)" font-size="20.4" fill="#4D4D4D" color="#4D4D4D" textLength="56.36" lengthAdjust="spacingAndGlyphs" class="g">C2_50</text>
<text transform="translate(1557.4 686.48) rotate(-90)" font-size="20.4" fill="#4D4D4D" color="#4D4D4D" textLength="74.57" lengthAdjust="spacingAndGlyphs" class="g">MC1_50</text>
<text transform="translate(1599.9 686.48) rotate(-90)" font-size="20.4" fill="#4D4D4D" color="#4D4D4D" textLength="74.57" lengthAdjust="spacingAndGlyphs" class="g">MC2_50</text>
<text transform="translate(1641.5 686.48) rotate(-90)" font-size="20.4" fill="#4D4D4D" color="#4D4D4D" textLength="74.57" lengthAdjust="spacingAndGlyphs" class="g">MC3_50</text>
<text transform="translate(1684.2 686.48) rotate(-90)" font-size="20.4" fill="#4D4D4D" color="#4D4D4D" textLength="74.57" lengthAdjust="spacingAndGlyphs" class="g">MC4_50</text>
<text transform="translate(1296.6 447.37) rotate(-90)" font-size="20.7" fill="#000" color="#000" textLength="246.03" lengthAdjust="spacingAndGlyphs" class="t">Relative abundance morpho</text>
<text x="1487.81" y="707.3" font-size="20.7" fill="#000" color="#000" textLength="77.31" lengthAdjust="spacingAndGlyphs" class="t">Samples</text>
<rect x="1737.7" y="267" width="30.4" height="29.9" fill="#3DA157"/>
<rect x="1766.4" y="267" width="1.7" height="29.9" fill="#141414"/>
<rect x="1737.7" y="295.2" width="30.4" height="1.7" fill="#141414"/>
<rect x="1737.7" y="267" width="0.6" height="29.9" fill="#141414" opacity="0.45"/>
<rect x="1737.7" y="267" width="30.4" height="0.6" fill="#141414" opacity="0.35"/>
<text x="1777.67" y="289.6" font-size="16.4" fill="#000" color="#000" textLength="169.81" lengthAdjust="spacingAndGlyphs" class="k">Copepod Holoplankton</text>
<rect x="1737.7" y="297.5" width="30.4" height="30.4" fill="#9494E8"/>
<rect x="1766.4" y="297.5" width="1.7" height="30.4" fill="#141414"/>
<rect x="1737.7" y="326.2" width="30.4" height="1.7" fill="#141414"/>
<rect x="1737.7" y="297.5" width="0.6" height="30.4" fill="#141414" opacity="0.45"/>
<rect x="1737.7" y="297.5" width="30.4" height="0.6" fill="#141414" opacity="0.35"/>
<text x="1777.03" y="320.7" font-size="16.4" fill="#000" color="#000" textLength="114.23" lengthAdjust="spacingAndGlyphs" class="k">Ichthyoplankton</text>
<rect x="1737.7" y="330.1" width="30.4" height="28.6" fill="#BEBEBE"/>
<rect x="1766.4" y="330.1" width="1.7" height="28.6" fill="#141414"/>
<rect x="1737.7" y="357" width="30.4" height="1.7" fill="#141414"/>
<rect x="1737.7" y="330.1" width="0.6" height="28.6" fill="#141414" opacity="0.45"/>
<rect x="1737.7" y="330.1" width="30.4" height="0.6" fill="#141414" opacity="0.35"/>
<text x="1777.19" y="351.8" font-size="16.4" fill="#000" color="#000" textLength="99.57" lengthAdjust="spacingAndGlyphs" class="k">Meroplankton</text>
<rect x="1737.7" y="361.1" width="30.4" height="29.5" fill="#4F4F4F"/>
<rect x="1766.4" y="361.1" width="1.7" height="29.5" fill="#141414"/>
<rect x="1737.7" y="388.9" width="30.4" height="1.7" fill="#141414"/>
<rect x="1737.7" y="361.1" width="0.6" height="29.5" fill="#141414" opacity="0.45"/>
<rect x="1737.7" y="361.1" width="30.4" height="0.6" fill="#141414" opacity="0.35"/>
<text x="1777.17" y="382.9" font-size="16.4" fill="#000" color="#000" textLength="204.45" lengthAdjust="spacingAndGlyphs" class="k">Non Copepod Holoplankton</text>
<text x="1526.4" y="745.2" font-size="34.7" fill="#000" color="#000" textLength="13.7" lengthAdjust="spacingAndGlyphs" class="ser">c</text>
</g>
</svg>
</body></html>
